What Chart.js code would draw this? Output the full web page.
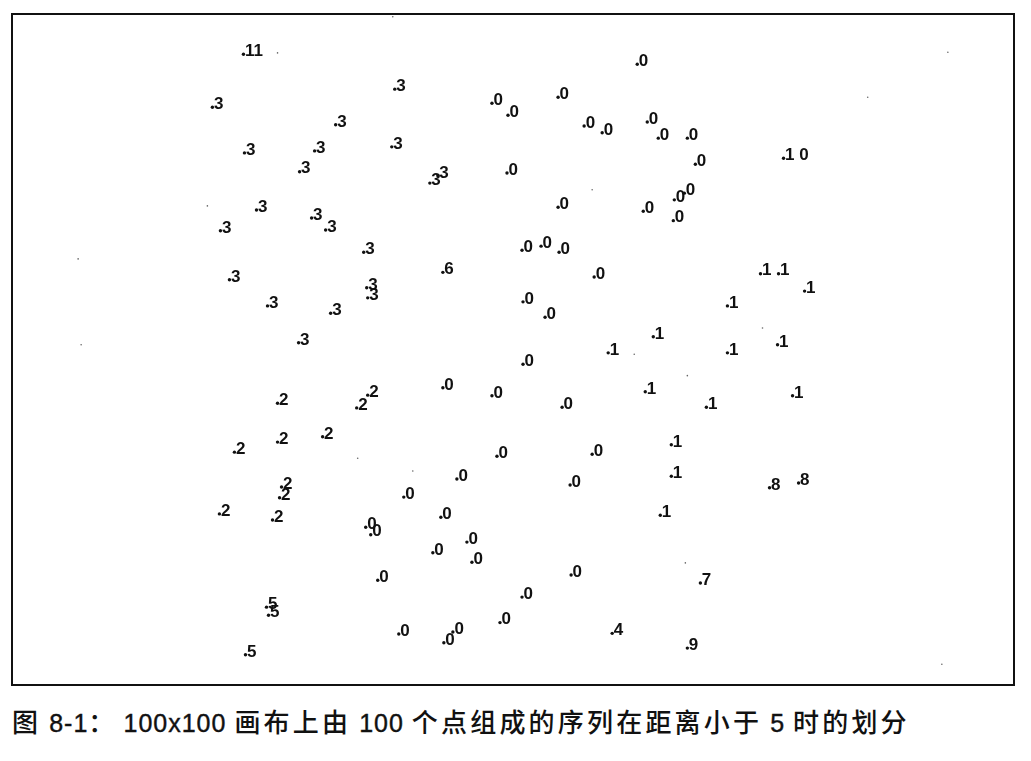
<!DOCTYPE html>
<html>
<head>
<meta charset="utf-8">
<script src="https://cdn.jsdelivr.net/npm/chart.js@4.4.1/dist/chart.umd.min.js"></script>
<style>
  html, body { margin: 0; padding: 0; background: #fff; }
  #wrap { position: relative; width: 1031px; height: 761px; }
  #box { position: absolute; left: 0; top: 0; width: 1031px; height: 700px; }
  #caption { position: absolute; left: 12px; top: 705px; color: #111; line-height: 32px; white-space: nowrap; }
  #caption .c { font-family: "Noto Sans CJK SC", sans-serif; font-size: 26px; font-weight: 500; letter-spacing: 3.2px; }
  #caption .a { font-family: "Liberation Sans", Arial, sans-serif; font-size: 25px; letter-spacing: 1px; -webkit-text-stroke: 0.4px #111; }
  #caption .colon { margin-right: 6px; }
</style>
</head>
<body>
<div id="wrap">
  <div id="box"><canvas id="c"></canvas></div>
  <div id="caption"><span class="c">图</span><span class="a"> 8-1</span><span class="c colon">：</span><span class="a">100x100 </span><span class="c">画布上由</span><span class="a"> 100 </span><span class="c">个点组成的序列在距离小于</span><span class="a"> 5 </span><span class="c">时的划分</span></div>
</div>
<script>
// Point positions on the 100x100 canvas (origin at top-left)
const pointX = [23.1,38.2,20.0,47.9,49.5,32.3,23.2,30.2,37.9,28.7,41.7,42.5,49.4,24.4,29.9,31.3,20.8,35.1,43.0,21.7,35.4,35.5,25.5,31.8,28.6,
  62.4,54.5,57.1,58.9,63.4,64.5,67.4,68.2,77.0,54.5,63.0,66.1,67.1,66.0,50.9,52.8,54.6,58.1,74.7,76.5,79.1,71.4,51.0,53.2,64.0,76.4,59.5,71.4,51.0,
  63.2,69.3,77.9,54.9,65.8,57.9,65.8,55.7,75.6,78.5,64.7,55.8,68.7,50.9,59.9,67.4,
  26.5,35.5,34.4,43.0,47.9,26.5,31.0,22.2,48.4,44.4,39.1,26.9,26.7,20.7,26.0,42.8,35.3,35.8,45.4,45.9,42.0,36.5,25.4,25.6,48.7,38.6,43.1,44.0,23.3];
const pointY = [6.0,11.2,13.9,13.3,15.1,16.5,20.7,20.4,19.8,23.5,25.2,24.1,23.7,29.2,30.4,32.2,32.3,35.5,38.5,39.6,40.8,42.3,43.5,44.6,49.0,
  7.5,12.4,16.7,17.7,16.1,18.5,18.5,22.4,21.5,28.8,29.4,27.7,26.7,30.8,35.2,34.6,35.5,39.2,38.7,38.7,41.3,43.5,42.9,45.2,48.1,49.3,50.5,50.5,52.2,
  56.3,58.6,56.9,58.6,64.2,65.6,68.9,70.2,70.6,69.9,74.7,83.6,84.8,86.9,92.3,94.5,
  58.0,56.8,58.7,55.7,56.9,63.8,63.0,65.3,65.9,69.3,72.0,70.5,72.1,74.5,75.4,75.0,76.5,77.6,78.7,81.7,80.3,84.4,88.4,89.6,90.7,92.4,93.7,92.1,95.5];
// Partition (cluster) label of each point
const pointLabel = ["11","3","3","0","0","3","3","3","3","3","3","3","0","3","3","3","3","3","6","3","3","3","3","3","3",
  "0","0","0","0","0","0","0","0","1 0","0","0","0","0","0","0","0","0","0","1","1","1","1","0","0","1","1","1","1","0",
  "1","1","1","0","1","0","1","0","8","8","1","0","7","0","4","9",
  "2","2","2","0","0","2","2","2","0","0","0","2","2","2","2","0","0","0","0","0","0","0","5","5","0","0","0","0","5"];
// Stray specks in the picture
const speckX = [26.5,6.6,19.5,6.9,38.0,85.4,93.4,57.9,74.9,62.1,67.4,67.2,92.8,34.5,40.0];
const speckY = [5.8,36.5,28.6,49.3,0.4,12.4,5.7,26.2,46.8,50.7,53.9,81.8,96.9,66.2,68.1];

const labelPlugin = {
  id: 'pointLabels',
  afterDatasetsDraw(chart) {
    const ctx = chart.ctx;
    const meta = chart.getDatasetMeta(0);
    ctx.save();
    ctx.fillStyle = '#111';
    ctx.font = 'bold 17px "Liberation Sans", Arial, sans-serif';
    ctx.textAlign = 'left';
    ctx.textBaseline = 'alphabetic';
    meta.data.forEach((el, i) => {
      ctx.fillText(pointLabel[i], el.x + 1.5, el.y + 1.8);
    });
    ctx.restore();
  }
};
const framePlugin = {
  id: 'frame',
  afterDraw(chart) {
    const a = chart.chartArea, ctx = chart.ctx;
    ctx.save();
    ctx.strokeStyle = '#111';
    ctx.lineWidth = 2;
    ctx.strokeRect(a.left, a.top, a.right - a.left, a.bottom - a.top);
    ctx.restore();
  }
};

new Chart(document.getElementById('c'), {
  type: 'scatter',
  data: {
    datasets: [
      { data: pointX.map((x, i) => ({ x, y: pointY[i] })), pointRadius: 1.7, pointBackgroundColor: '#111', pointBorderWidth: 0 },
      { data: speckX.map((x, i) => ({ x, y: speckY[i] })), pointRadius: 0.8, pointBackgroundColor: '#666', pointBorderWidth: 0 }
    ]
  },
  options: {
    responsive: true,
    maintainAspectRatio: false,
    animation: false,
    layout: { padding: { left: 12, top: 14, right: 17, bottom: 15 } },
    plugins: { legend: { display: false }, tooltip: { enabled: false } },
    scales: {
      x: { type: 'linear', min: 0, max: 100, display: false },
      y: { type: 'linear', min: 0, max: 100, reverse: true, display: false }
    }
  },
  plugins: [labelPlugin, framePlugin]
});
</script>
</body>
</html>
